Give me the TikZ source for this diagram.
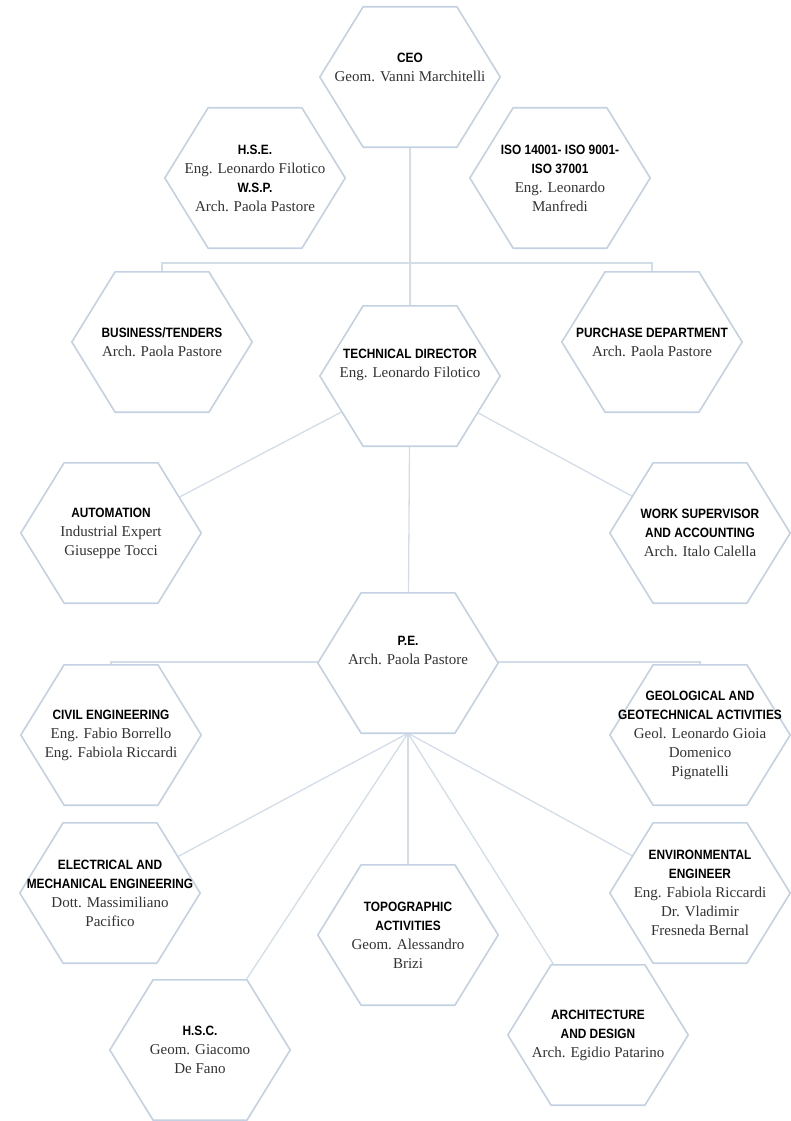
\documentclass[tikz,border=0pt]{standalone}
\usepackage{fontspec}
\setmainfont{Liberation Serif}
\newfontfamily\hdfont[FakeStretch=0.88]{Liberation Sans}
\usetikzlibrary{calc,backgrounds}
\definecolor{hexblue}{HTML}{C3D1E2}
\definecolor{linkblue}{HTML}{D3DDE8}
\definecolor{namegray}{HTML}{333333}
\newcommand{\hd}[1]{{\hdfont\bfseries\fontsize{13.5}{19}\selectfont\color{black}#1}}

\begin{document}
\begin{tikzpicture}[x=1pt,y=-1pt,
    hexbox/.style={minimum width=180pt, minimum height=140pt, inner sep=0pt,
        align=center, text=namegray, font=\fontsize{15}{19}\selectfont},
    hexedge/.style={draw=hexblue, fill=white, line width=1.6pt, line join=round},
    link/.style={draw=linkblue, line width=1.3pt}]
\useasboundingbox (0,0) rectangle (791,1121);

% top block (an empty last line lifts the text a little)
\node[hexbox] (ceo) at (410,77) {\hd{CEO}\\Geom. Vanni Marchitelli\\[-5pt]\strut};
\node[hexbox] (hse) at (255,178) {\hd{H.S.E.}\\Eng. Leonardo Filotico\\\hd{W.S.P.}\\Arch. Paola Pastore};
\node[hexbox] (iso) at (560,178) {\hd{ISO 14001- ISO 9001-}\\\hd{ISO 37001}\\Eng. Leonardo\\Manfredi};
\node[hexbox] (bus) at (162,342) {\hd{BUSINESS/TENDERS}\\Arch. Paola Pastore};
\node[hexbox] (td) at (410,376) {\hd{TECHNICAL DIRECTOR}\\Eng. Leonardo Filotico\\\strut};
\node[hexbox] (pur) at (652,342) {\hd{PURCHASE DEPARTMENT}\\Arch. Paola Pastore};
\node[hexbox] (aut) at (111,533) {\hd{AUTOMATION}\\Industrial Expert\\Giuseppe Tocci};
\node[hexbox] (wsa) at (700,533) {\hd{WORK SUPERVISOR}\\\hd{AND ACCOUNTING}\\Arch. Italo Calella};

% P.E. block
\node[hexbox] (pe) at (408,663) {\hd{P.E.}\\Arch. Paola Pastore\\\strut};
\node[hexbox] (civ) at (111,735) {\hd{CIVIL ENGINEERING}\\Eng. Fabio Borrello\\Eng. Fabiola Riccardi};
\node[hexbox] (geo) at (700,735) {\hd{GEOLOGICAL AND}\\\hd{GEOTECHNICAL ACTIVITIES}\\Geol. Leonardo Gioia\\Domenico\\Pignatelli};
\node[hexbox] (ele) at (110,893) {\hd{ELECTRICAL AND}\\\hd{MECHANICAL ENGINEERING}\\Dott. Massimiliano\\Pacifico};
\node[hexbox] (env) at (700,893) {\hd{ENVIRONMENTAL}\\\hd{ENGINEER}\\Eng. Fabiola Riccardi\\Dr. Vladimir\\Fresneda Bernal};
\node[hexbox] (topo) at (408,935) {\hd{TOPOGRAPHIC}\\\hd{ACTIVITIES}\\Geom. Alessandro\\Brizi};
\node[hexbox] (hsc) at (200,1050) {\hd{H.S.C.}\\Geom. Giacomo\\De Fano};
\node[hexbox] (arc) at (598,1035) {\hd{ARCHITECTURE}\\\hd{AND DESIGN}\\Arch. Egidio Patarino};

\coordinate (busbar) at (410,263);
\coordinate (pebar) at (408,662);
\coordinate (fan) at (pe.south);

\begin{scope}[on background layer]
    \draw[link] (ceo.center) -- (td.center);
    \draw[link] (bus.center) |- (busbar) -| (pur.center);
    \draw[link] (td.center) -- (aut.center);
    \draw[link] (td.center) -- (wsa.center);
    \draw[link] (td.center) -- (pe.center);
    \draw[link] (civ.center) |- (pebar) -| (geo.center);
    \foreach \n in {ele,hsc,topo,arc,env}
        \draw[link] (fan) -- (\n.center);

    % hexagon outlines over the connectors
    \foreach \n in {ceo,hse,iso,bus,td,pur,aut,wsa,pe,civ,geo,ele,env,topo,hsc,arc}
        \draw[hexedge] (\n.west) -- ($(\n.north west)!.24!(\n.north east)$)
            -- ($(\n.north west)!.76!(\n.north east)$) -- (\n.east)
            -- ($(\n.south west)!.76!(\n.south east)$)
            -- ($(\n.south west)!.24!(\n.south east)$) -- cycle;
\end{scope}
\end{tikzpicture}
\end{document}
